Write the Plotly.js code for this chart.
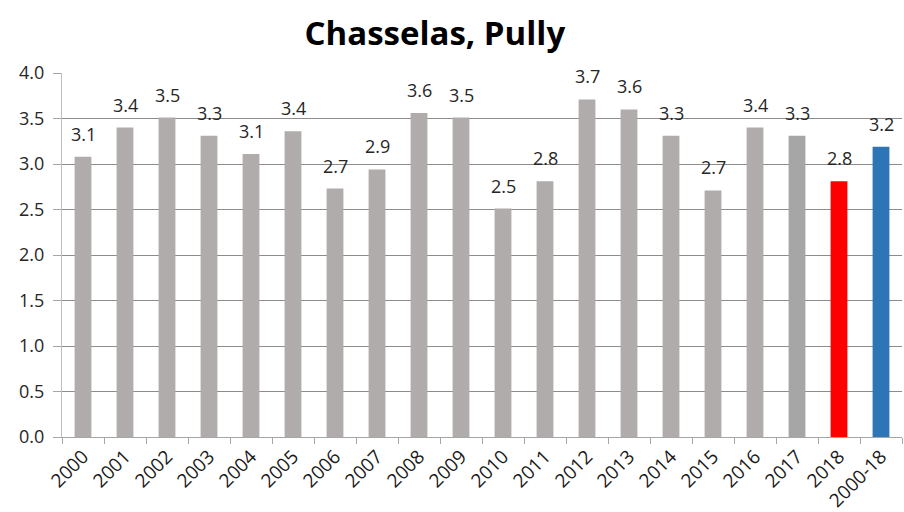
<!DOCTYPE html>
<html>
<head>
<meta charset="utf-8">
<script src="https://cdn.plot.ly/plotly-3.0.1.min.js"></script>
<style>html,body{margin:0;padding:0;background:#fff;}#chart{width:904px;height:512px;}</style>
</head>
<body>
<div id="chart"></div>
<script>
const categories = ["2000","2001","2002","2003","2004","2005","2006","2007","2008","2009","2010","2011","2012","2013","2014","2015","2016","2017","2018","2000-18"];
const values = [3.08,3.40,3.51,3.31,3.11,3.36,2.73,2.94,3.56,3.51,2.51,2.81,3.71,3.60,3.31,2.71,3.40,3.31,2.81,3.19];
const barColors = ["#b0acab","#b0acab","#b0acab","#b0acab","#b0acab","#b0acab","#b0acab","#b0acab","#b0acab","#b0acab","#b0acab","#b0acab","#b0acab","#b0acab","#b0acab","#b0acab","#b0acab","#a6a6a6","#ff0000","#2e75b6"];
const yTicks = [0,0.5,1,1.5,2,2.5,3,3.5,4];

const fontFam = "'Open Sans', 'Noto Sans', sans-serif";
const trace = {
  type: 'bar',
  x: categories,
  y: values,
  marker: {color: barColors},
  hoverinfo: 'none'
};
const annotations = categories.map((c, i) => ({
  x: i, y: values[i], xref: 'x', yref: 'y',
  text: values[i].toFixed(1),
  showarrow: false, yanchor: 'bottom', yshift: 9,
  font: {family: fontFam, size: 18, color: '#262626'}
}));
const layout = {
  width: 904, height: 512,
  margin: {l: 62, r: 2, t: 73, b: 75},
  paper_bgcolor: '#ffffff', plot_bgcolor: '#ffffff',
  title: {text: '<b>Chasselas, Pully</b>', x: 0.481, xanchor: 'center', y: 0.935, yanchor: 'middle',
    font: {family: fontFam, size: 33, color: '#000000'}},
  bargap: 0.6,
  showlegend: false,
  xaxis: {
    type: 'category',
    range: [-0.5, categories.length - 0.5],
    tickangle: -45,
    tickson: 'boundaries',
    ticks: 'outside', ticklen: 6, tickcolor: '#a6a6a6',
    showline: true, linecolor: '#a6a6a6', linewidth: 1,
    showgrid: false,
    tickfont: {family: fontFam, size: 19, color: '#1a1a1a'}
  },
  yaxis: {
    range: [0, 4],
    tickvals: yTicks,
    tickformat: '.1f',
    ticks: 'outside', ticklen: 8, tickcolor: '#a6a6a6',
    ticklabelstandoff: 5,
    showline: true, linecolor: '#bfbfbf', linewidth: 1,
    showgrid: true, gridcolor: '#8c8c8c', gridwidth: 1,
    zeroline: false,
    tickfont: {family: fontFam, size: 18, color: '#262626'}
  },
  annotations: annotations
};
Plotly.newPlot('chart', [trace], layout, {displayModeBar: false, staticPlot: true});
</script>
</body>
</html>
